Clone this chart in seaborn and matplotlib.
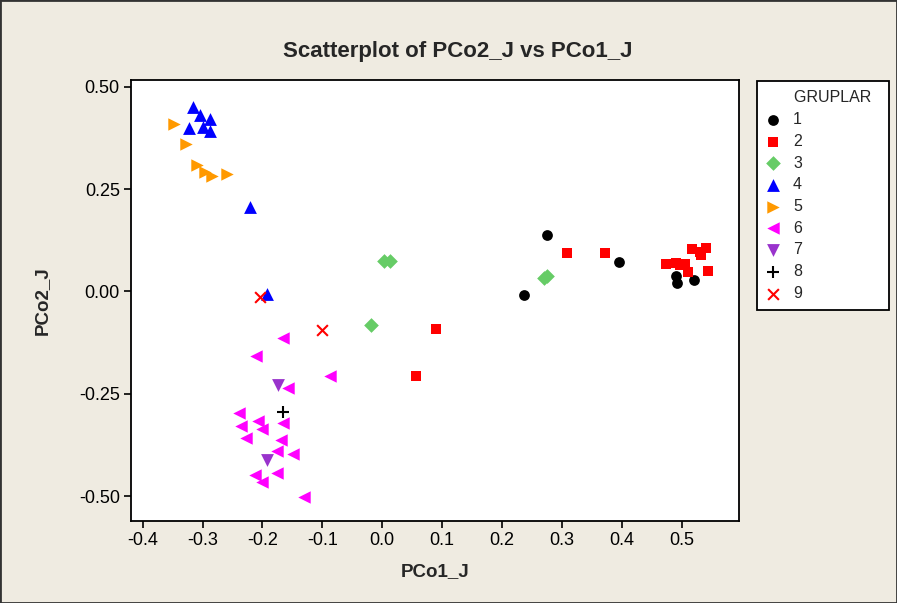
import matplotlib
matplotlib.use("Agg")
import matplotlib.pyplot as plt
import seaborn as sns
import pandas as pd
from matplotlib.patches import Rectangle

# data
gruplar = ([1] * 6 + [2] * 14 + [3] * 5 + [4] * 8 + [5] * 6 + [6] * 17
           + [7] * 2 + [8] * 1 + [9] * 2)
pco1 = [0.276, 0.396, 0.237, 0.490, 0.492, 0.521,
        0.309, 0.372, 0.090, 0.056, 0.474, 0.491, 0.505, 0.511, 0.518, 0.540,
        0.533, 0.544, 0.530, 0.498,
        0.003, 0.013, -0.019, 0.270, 0.276,
        -0.316, -0.305, -0.288, -0.322, -0.299, -0.288, -0.221, -0.193,
        -0.348, -0.327, -0.310, -0.296, -0.285, -0.259,
        -0.165, -0.210, -0.087, -0.157, -0.239, -0.236, -0.207, -0.201, -0.165,
        -0.228, -0.169, -0.175, -0.149, -0.175, -0.213, -0.201, -0.131,
        -0.174, -0.192,
        -0.165,
        -0.204, -0.100]
pco2 = [0.137, 0.071, -0.009, 0.038, 0.021, 0.029,
        0.095, 0.095, -0.092, -0.206, 0.066, 0.070, 0.066, 0.048, 0.103, 0.107,
        0.089, 0.050, 0.097, 0.064,
        0.075, 0.075, -0.082, 0.032, 0.038,
        0.451, 0.430, 0.422, 0.398, 0.402, 0.391, 0.207, -0.007,
        0.408, 0.361, 0.308, 0.292, 0.282, 0.286,
        -0.115, -0.158, -0.207, -0.237, -0.298, -0.328, -0.316, -0.336, -0.321,
        -0.359, -0.363, -0.390, -0.397, -0.443, -0.448, -0.465, -0.503,
        -0.229, -0.412,
        -0.294,
        -0.013, -0.094]

df = pd.DataFrame({"PCo1_J": pco1, "PCo2_J": pco2, "GRUPLAR": gruplar})

colores = {1: "#000000", 2: "#FF0000", 3: "#66CC66", 4: "#0000FF", 5: "#FF9900",
           6: "#FF00FF", 7: "#9933CC", 8: "#000000", 9: "#FF0000"}
marcas = {1: "o", 2: "s", 3: "D", 4: "^", 5: ">", 6: "<", 7: "v", 8: "+", 9: "x"}
tamanos = {1: 60, 2: 60, 3: 56, 4: 85, 5: 80, 6: 80, 7: 85, 8: 70, 9: 60}

sns.set_style("white")
plt.rcParams["font.family"] = ["Liberation Sans", "DejaVu Sans"]
plt.rcParams["axes.unicode_minus"] = False

fondo = "#EFEBE1"
fig = plt.figure(figsize=(8.97, 6.03), dpi=100, facecolor=fondo)
ax = fig.add_axes([0.146, 0.136, 0.678, 0.731])
ax.set_facecolor("white")

for g in sorted(df["GRUPLAR"].unique()):
    sub = df[df["GRUPLAR"] == g]
    if marcas[g] in ("+", "x"):
        sns.scatterplot(data=sub, x="PCo1_J", y="PCo2_J", marker=marcas[g],
                        color=colores[g], s=tamanos[g], linewidth=1.5,
                        label=str(g), ax=ax, legend=False)
    else:
        sns.scatterplot(data=sub, x="PCo1_J", y="PCo2_J", marker=marcas[g],
                        color=colores[g], s=tamanos[g], linewidth=0,
                        label=str(g), ax=ax, legend=False)

ax.set_xlim(-0.4195, 0.596)
ax.set_ylim(-0.561, 0.516)
ax.set_xticks([-0.4, -0.3, -0.2, -0.1, 0.0, 0.1, 0.2, 0.3, 0.4, 0.5])
ax.set_xticklabels(["-0.4", "-0.3", "-0.2", "-0.1", "0.0", "0.1", "0.2", "0.3", "0.4", "0.5"])
ax.set_yticks([0.5, 0.25, 0.0, -0.25, -0.5])
ax.set_yticklabels(["0.50", "0.25", "0.00", "-0.25", "-0.50"])
ax.tick_params(axis="both", direction="out", length=5, width=1.2, colors="black",
               labelsize=13, pad=3, bottom=True, left=True)
for sp in ax.spines.values():
    sp.set_color("black")
    sp.set_linewidth(1.3)

ax.set_xlabel("PCo1_J", fontsize=13.5, fontweight="bold", labelpad=10)
ax.set_ylabel("PCo2_J", fontsize=13.5, fontweight="bold", labelpad=20)
fig.text(0.510, 0.915, "Scatterplot of PCo2_J vs PCo1_J", ha="center", va="center",
         fontsize=16, fontweight="bold")

handles, labels = ax.get_legend_handles_labels()
leg = fig.legend(handles, labels, title="      GRUPLAR  ", loc="upper left",
                 bbox_to_anchor=(0.844, 0.866), borderaxespad=0, fontsize=11.5,
                 title_fontsize=11.5, frameon=True, fancybox=False,
                 edgecolor="black", facecolor="white", framealpha=1,
                 labelspacing=0.42, handletextpad=0.85, borderpad=0.6,
                 handlelength=0.8)
leg.get_frame().set_linewidth(1.3)
leg._legend_box.align = "left"

fig.patches.append(Rectangle((0, 0), 1, 1, transform=fig.transFigure, fill=False,
                             edgecolor="#333333", linewidth=2))

fig.savefig("out.png", dpi=100, facecolor=fondo)
